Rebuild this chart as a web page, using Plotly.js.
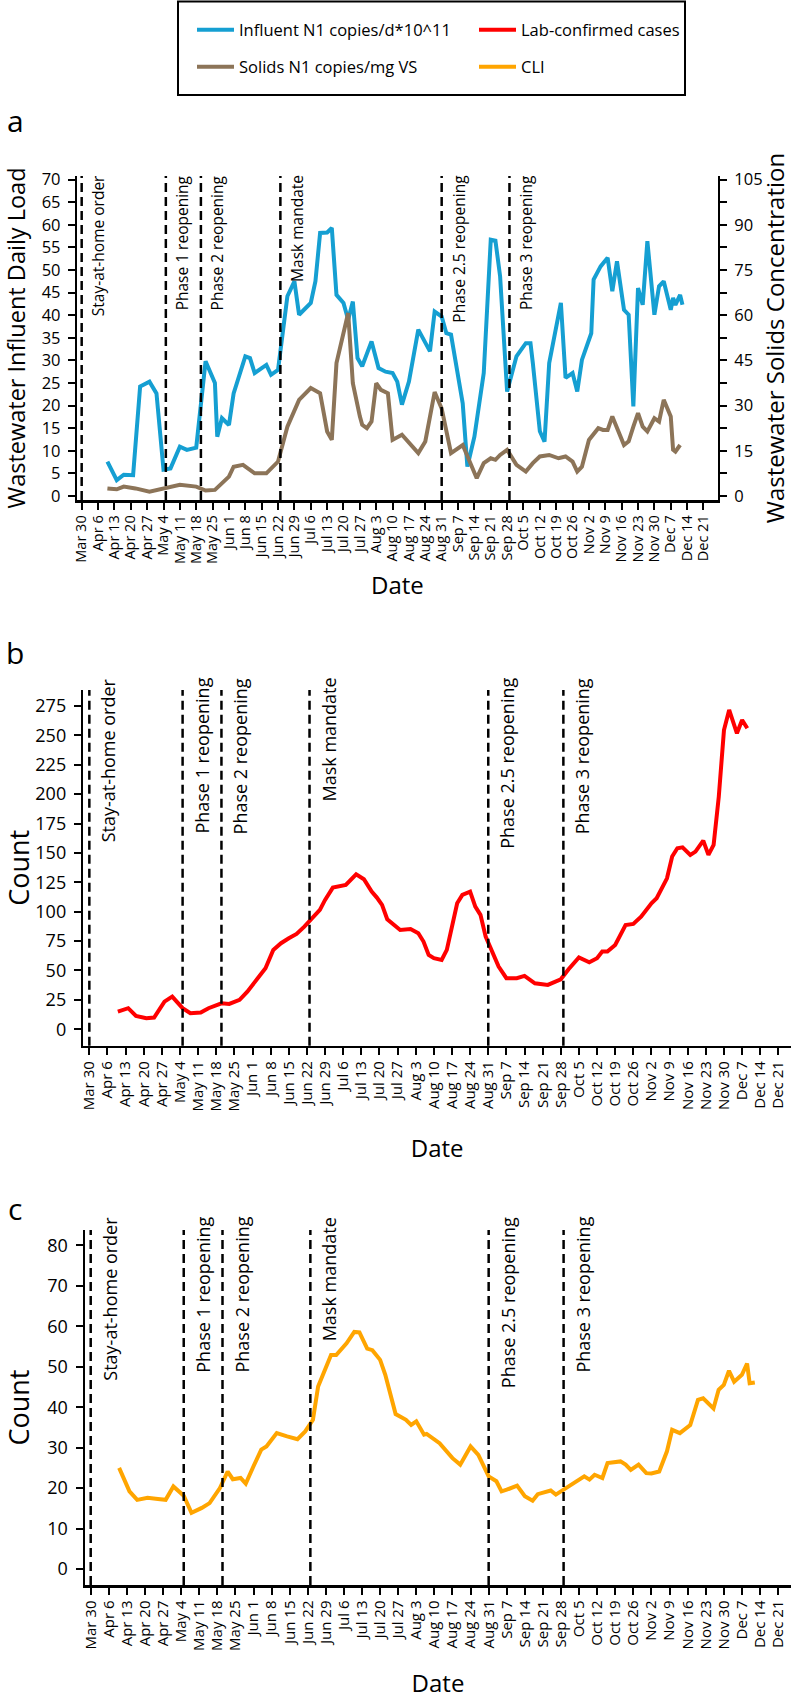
<!DOCTYPE html>
<html><head><meta charset="utf-8">
<script src="https://cdn.plot.ly/plotly-3.0.1.min.js"></script>
<style>html,body{margin:0;padding:0;background:#fff;}#chart{width:791px;height:1699px;}</style>
</head><body><div id="chart"></div>
<script>
// ---- Panel a: wastewater ----
const influentDates = ['2020-04-10','2020-04-14','2020-04-17','2020-04-21','2020-04-24','2020-04-28','2020-05-01','2020-05-04','2020-05-07','2020-05-11','2020-05-14','2020-05-18','2020-05-22','2020-05-26','2020-05-27','2020-05-29','2020-06-01','2020-06-03','2020-06-08','2020-06-10','2020-06-12','2020-06-17','2020-06-19','2020-06-22','2020-06-26','2020-06-29','2020-07-01','2020-07-06','2020-07-08','2020-07-10','2020-07-13','2020-07-15','2020-07-17','2020-07-20','2020-07-22','2020-07-24','2020-07-26','2020-07-28','2020-08-01','2020-08-04','2020-08-07','2020-08-10','2020-08-12','2020-08-14','2020-08-17','2020-08-21','2020-08-26','2020-08-28','2020-08-31','2020-09-02','2020-09-04','2020-09-09','2020-09-11','2020-09-14','2020-09-18','2020-09-21','2020-09-23','2020-09-25','2020-09-28','2020-09-30','2020-10-02','2020-10-06','2020-10-08','2020-10-09','2020-10-12','2020-10-14','2020-10-16','2020-10-21','2020-10-23','2020-10-26','2020-10-28','2020-10-30','2020-11-03','2020-11-04','2020-11-07','2020-11-10','2020-11-12','2020-11-14','2020-11-17','2020-11-19','2020-11-21','2020-11-23','2020-11-25','2020-11-27','2020-11-30','2020-12-02','2020-12-04','2020-12-07','2020-12-08','2020-12-09','2020-12-11','2020-12-12'];
const influentValues = [7.6,3.5,4.7,4.6,24.2,25.3,22.7,5.8,6.1,10.9,10.2,10.7,29.8,25.0,13.1,17.2,15.7,22.7,30.9,30.5,27.2,29.0,26.8,27.9,44.2,47.5,40.1,42.7,47.5,58.2,58.3,59.3,44.5,42.7,39.0,43.0,30.5,28.7,34.2,28.3,27.5,27.2,25.3,20.2,25.3,36.8,32.0,40.8,39.7,36.0,35.7,20.5,6.5,13.1,27.2,56.7,56.5,48.6,23.1,27.2,30.9,33.8,33.8,29.4,14.3,12.0,29.4,42.7,26.1,27.2,23.1,30.1,36.0,47.9,50.8,52.7,45.3,51.9,41.2,40.1,19.8,46.0,42.3,56.4,40.1,46.4,47.5,41.2,43.8,42.3,44.5,42.3];

const solidsDates = ['2020-04-10','2020-04-14','2020-04-17','2020-04-22','2020-04-28','2020-05-01','2020-05-04','2020-05-11','2020-05-18','2020-05-22','2020-05-26','2020-06-01','2020-06-03','2020-06-07','2020-06-12','2020-06-17','2020-06-22','2020-06-26','2020-07-01','2020-07-06','2020-07-10','2020-07-13','2020-07-15','2020-07-17','2020-07-22','2020-07-24','2020-07-27','2020-07-28','2020-07-30','2020-08-01','2020-08-03','2020-08-05','2020-08-08','2020-08-10','2020-08-14','2020-08-17','2020-08-21','2020-08-24','2020-08-28','2020-08-31','2020-09-04','2020-09-09','2020-09-13','2020-09-15','2020-09-18','2020-09-21','2020-09-23','2020-09-25','2020-09-28','2020-10-02','2020-10-06','2020-10-09','2020-10-12','2020-10-16','2020-10-20','2020-10-23','2020-10-26','2020-10-28','2020-10-30','2020-11-02','2020-11-06','2020-11-08','2020-11-10','2020-11-12','2020-11-17','2020-11-19','2020-11-21','2020-11-23','2020-11-25','2020-11-27','2020-11-30','2020-12-02','2020-12-04','2020-12-07','2020-12-08','2020-12-09','2020-12-11'];
const solidsValues = [2.5,2.2,3.1,2.5,1.4,2.0,2.5,3.7,3.1,1.8,2.0,6.4,9.7,10.3,7.5,7.5,11.4,23.0,31.9,35.8,34.1,21.4,18.6,44.1,60.7,37.4,26.4,23.6,22.5,24.7,37.4,35.2,34.1,18.6,20.3,17.5,14.2,18.1,34.5,29.0,14.2,16.9,9.7,5.9,10.9,12.5,12.0,13.6,15.3,10.3,8.1,10.9,13.1,13.6,12.5,13.1,11.4,8.1,9.7,18.6,22.5,21.9,21.9,26.4,16.9,18.1,23.0,27.5,23.0,21.4,25.8,24.7,31.9,26.4,15.3,14.7,16.9];

// ---- Panel b: lab-confirmed cases ----
const casesDates = ['2020-04-10','2020-04-14','2020-04-17','2020-04-21','2020-04-24','2020-04-28','2020-05-01','2020-05-05','2020-05-08','2020-05-12','2020-05-15','2020-05-20','2020-05-23','2020-05-27','2020-05-30','2020-06-02','2020-06-06','2020-06-09','2020-06-12','2020-06-15','2020-06-18','2020-06-21','2020-06-24','2020-06-27','2020-06-29','2020-07-02','2020-07-07','2020-07-11','2020-07-14','2020-07-17','2020-07-19','2020-07-21','2020-07-23','2020-07-25','2020-07-28','2020-08-01','2020-08-04','2020-08-06','2020-08-08','2020-08-10','2020-08-13','2020-08-15','2020-08-17','2020-08-19','2020-08-21','2020-08-24','2020-08-26','2020-08-28','2020-08-30','2020-09-02','2020-09-04','2020-09-07','2020-09-11','2020-09-14','2020-09-18','2020-09-23','2020-09-26','2020-09-28','2020-10-01','2020-10-05','2020-10-09','2020-10-12','2020-10-14','2020-10-16','2020-10-19','2020-10-23','2020-10-26','2020-10-29','2020-11-02','2020-11-04','2020-11-08','2020-11-10','2020-11-12','2020-11-14','2020-11-17','2020-11-19','2020-11-22','2020-11-24','2020-11-26','2020-11-28','2020-11-30','2020-12-02','2020-12-05','2020-12-07','2020-12-09'];
const casesValues = [15,17.9,11.3,9.4,9.9,23.5,27.8,17.9,13.6,14.2,17.9,22.1,21.5,25,32,40.5,51.9,67.5,73.2,77.4,81.1,87.3,94.4,101.5,110,120.5,122.8,131.8,127.6,117.1,112,105.8,93.6,90.2,84.5,85.3,81.7,74.6,63.2,60.4,59,67.5,85.9,107.2,114.3,117.1,104.3,97.3,78.8,63.2,53.3,43.4,43.4,45.4,39.1,37.7,41.1,42.5,51,61,57,60.4,66.1,66.1,71.7,88.7,89.6,95.8,107.2,111.4,128.4,146.9,154,154.8,148.3,151.1,160.5,148.3,156.8,197.9,254.6,271.6,251.8,263.1,256];

// ---- Panel c: CLI ----
const cliDates = ['2020-04-10','2020-04-14','2020-04-17','2020-04-21','2020-04-25','2020-04-28','2020-05-01','2020-05-05','2020-05-08','2020-05-12','2020-05-15','2020-05-19','2020-05-22','2020-05-24','2020-05-27','2020-05-29','2020-06-01','2020-06-04','2020-06-06','2020-06-10','2020-06-14','2020-06-18','2020-06-21','2020-06-24','2020-06-26','2020-07-01','2020-07-03','2020-07-07','2020-07-10','2020-07-12','2020-07-15','2020-07-17','2020-07-20','2020-07-22','2020-07-26','2020-07-30','2020-08-01','2020-08-03','2020-08-06','2020-08-07','2020-08-12','2020-08-17','2020-08-20','2020-08-24','2020-08-27','2020-08-31','2020-09-03','2020-09-05','2020-09-07','2020-09-11','2020-09-14','2020-09-17','2020-09-19','2020-09-24','2020-09-26','2020-09-29','2020-10-01','2020-10-04','2020-10-07','2020-10-09','2020-10-11','2020-10-14','2020-10-16','2020-10-21','2020-10-23','2020-10-25','2020-10-28','2020-10-31','2020-11-02','2020-11-05','2020-11-08','2020-11-10','2020-11-13','2020-11-17','2020-11-20','2020-11-22','2020-11-26','2020-11-28','2020-11-30','2020-12-02','2020-12-04','2020-12-07','2020-12-09','2020-12-10','2020-12-12'];
const cliValues = [25,19.2,17.1,17.6,17.3,17.1,20.4,18.1,13.9,15.1,16.3,20,24.1,22.2,22.5,21.1,25.4,29.5,30.3,33.6,32.8,32.1,34,36.9,45.1,52.9,52.9,55.8,58.6,58.5,54.5,54.1,51.7,48,38.3,36.9,35.6,36.5,33.2,33.4,31.1,27.4,25.8,30.3,28.2,22.9,21.7,19.2,19.6,20.6,18,16.9,18.5,19.4,18.4,19.6,20.4,21.7,22.9,22.1,23.3,22.5,26.2,26.6,25.8,24.5,25.8,23.7,23.6,24.1,29.1,34.4,33.6,35.6,41.8,42.2,39.7,44.3,45.5,49,46.3,48,50.8,45.9,46.1];

// ---- Events ----
const eventDates = ['2020-03-30','2020-05-05','2020-05-20','2020-06-23','2020-08-31','2020-09-29'];
const eventLabels = ['Stay-at-home order','Phase 1 reopening','Phase 2 reopening','Mask mandate','Phase 2.5 reopening','Phase 3 reopening'];

const seriesNames = ['Influent N1 copies/d*10^11','Lab-confirmed cases','Solids N1 copies/mg VS','CLI'];
const seriesColors = ['#159fd2','#ff0000','#8c7458','#ffa500'];

// ---- Layout helpers (pixel -> paper) ----
const W = 791, H = 1699;
const PX = p => p / W;
const PY = p => 1 - p / H;
const FONT = 'Open Sans, Noto Sans, sans-serif';
const WEEK = 7 * 86400000;
const NB = '\u00A0';

const traces = [
  {x: influentDates, y: influentValues, name: seriesNames[0], type: 'scatter', mode: 'lines',
   line: {color: seriesColors[0], width: 4}, xaxis: 'x', yaxis: 'y', legend: 'legend'},
  {x: casesDates, y: casesValues, name: seriesNames[1], type: 'scatter', mode: 'lines',
   line: {color: seriesColors[1], width: 4}, xaxis: 'x2', yaxis: 'y3', legend: 'legend'},
  {x: solidsDates, y: solidsValues, name: seriesNames[2], type: 'scatter', mode: 'lines',
   line: {color: seriesColors[2], width: 4}, xaxis: 'x', yaxis: 'y2', legend: 'legend2'},
  {x: cliDates, y: cliValues, name: seriesNames[3], type: 'scatter', mode: 'lines',
   line: {color: seriesColors[3], width: 4}, xaxis: 'x3', yaxis: 'y4', legend: 'legend2'}
];

function xAxis(domain, range, anchor, tickSize, titleText, standoff) {
  return {
    domain: domain, anchor: anchor, type: 'date', range: range,
    tick0: '2020-03-30', dtick: WEEK, tickformat: '%b %-d', tickangle: -90,
    ticks: 'outside', ticklen: 7, tickwidth: 2, tickcolor: '#000',
    showline: true, linewidth: 2.5, linecolor: '#000', showgrid: false, zeroline: false,
    tickfont: {family: FONT, size: tickSize, color: '#000'},
    title: {text: titleText, font: {family: FONT, size: 24, color: '#000'}, standoff: standoff}
  };
}
function yAxis(domain, range, dtick, anchor, title, tsize, fsize, standoff) {
  return {
    domain: domain, anchor: anchor, range: range, tick0: 0, dtick: dtick,
    ticks: 'outside', ticklen: 7, tickwidth: 2, tickcolor: '#000', ticklabelstandoff: 4,
    showline: true, linewidth: 2.5, linecolor: '#000', showgrid: false, zeroline: false,
    tickfont: {family: FONT, size: fsize, color: '#000'},
    title: {text: title, font: {family: FONT, size: tsize, color: '#000'}, standoff: standoff}
  };
}

const layout = {
  width: W, height: H, margin: {l: 0, r: 0, t: 0, b: 0},
  paper_bgcolor: '#fff', plot_bgcolor: '#fff',
  font: {family: FONT, color: '#000'},
  xaxis: xAxis([PX(77.3), PX(717.5)], ['2020-03-28 03:00', '2020-12-27 00:00'], 'y', 14.5, NB.repeat(28) + 'Date', 14),
  yaxis: yAxis([PY(500), PY(176)], [-0.9, 70.8], 5, 'x', 'Wastewater Influent Daily Load', 23.5, 16.5, 14),
  yaxis2: Object.assign(yAxis([PY(500), PY(176)], [-1.35, 106.2], 15, 'x', 'Wastewater Solids Concentration', 24, 16.5, 8),
    {overlaying: 'y', side: 'right', minor: {dtick: 7.5, tick0: 0, ticks: 'outside', ticklen: 7, tickwidth: 2, tickcolor: '#000'}}),
  xaxis2: xAxis([PX(83.3), 1], ['2020-03-27 16:00', '2020-12-25 21:00'], 'y3', 15, 'Date', 30),
  yaxis3: yAxis([PY(1045.7), PY(690)], [-14, 288.6], 25, 'x2', 'Count', 27, 18, 14),
  xaxis3: xAxis([PX(85), 1], ['2020-03-27 19:00', '2020-12-26 00:00'], 'y4', 15, 'Date', 30),
  yaxis4: yAxis([PY(1585), PY(1230)], [-3.95, 83.8], 10, 'x3', 'Count', 27, 18, 14),
  legend: {orientation: 'h', x: PX(192), xanchor: 'left', y: PY(30), yanchor: 'middle', itemwidth: 37,
           entrywidth: 230, font: {family: FONT, size: 16.5, color: '#000'}, bgcolor: 'rgba(0,0,0,0)'},
  legend2: {orientation: 'h', x: PX(192), xanchor: 'left', y: PY(67), yanchor: 'middle', itemwidth: 37,
           entrywidth: 230, font: {family: FONT, size: 16.5, color: '#000'}, bgcolor: 'rgba(0,0,0,0)'},
  shapes: [], annotations: [], showlegend: true
};

// legend frame
layout.shapes.push({type: 'rect', xref: 'paper', yref: 'paper', x0: PX(178), x1: PX(685), y0: PY(95), y1: PY(1.5),
  line: {color: '#000', width: 2}, fillcolor: 'rgba(0,0,0,0)'});

// event lines and labels for each panel
const panels = [
  {xr: 'x', yr: 'y domain', top: 173, size: 15.5, shift: 4},
  {xr: 'x2', yr: 'y3 domain', top: 676, size: 18, shift: 5},
  {xr: 'x3', yr: 'y4 domain', top: 1215, size: 18, shift: 5}
];
panels.forEach(p => {
  eventDates.forEach((d, i) => {
    layout.shapes.push({type: 'line', xref: p.xr, yref: p.yr, x0: d, x1: d, y0: 0, y1: 1,
      line: {color: '#000', width: 2.5, dash: '9px,5px'}, layer: 'above'});
    layout.annotations.push({xref: p.xr, yref: 'paper', x: d, y: PY(p.top), xanchor: 'left', yanchor: 'top',
      xshift: p.shift, textangle: -90, showarrow: false, text: eventLabels[i],
      font: {family: FONT, size: p.size, color: '#000'}});
  });
});

// panel letters
[['a', 121], ['b', 652], ['c', 1208]].forEach(([t, y]) => {
  layout.annotations.push({xref: 'paper', yref: 'paper', x: PX(15), y: PY(y), xanchor: 'center', yanchor: 'middle',
    showarrow: false, text: t, font: {family: FONT, size: 30, color: '#000'}});
});

Plotly.newPlot('chart', traces, layout, {staticPlot: true, displayModeBar: false});
</script>
</body></html>
